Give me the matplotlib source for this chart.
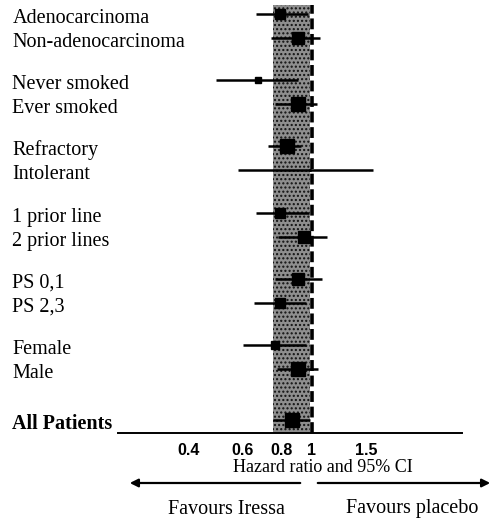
import numpy as np
import matplotlib
matplotlib.use('Agg')
import matplotlib.pyplot as plt
import matplotlib.transforms as mtransforms
from matplotlib.ticker import NullFormatter

plt.rcParams['font.family'] = 'Liberation Serif'

# SUBGROUP DATA (hazard ratio, 95% CI, relative weight of the estimate)
groups = [['Adenocarcinoma', 'Non-adenocarcinoma'],
          ['Never smoked', 'Ever smoked'],
          ['Refractory', 'Intolerant'],
          ['1 prior line', '2 prior lines'],
          ['PS 0,1', 'PS 2,3'],
          ['Female', 'Male']]
hr     = [0.79, 0.90, 0.67, 0.90, 0.83, 0.99, 0.79, 0.94, 0.90, 0.79, 0.76, 0.90]
ci_lo  = [0.66, 0.74, 0.49, 0.76, 0.72, 0.58, 0.66, 0.78, 0.76, 0.65, 0.60, 0.77]
ci_hi  = [0.97, 1.06, 0.90, 1.04, 0.92, 1.57, 0.98, 1.12, 1.08, 0.96, 0.96, 1.05]
weight = [51, 73, 20, 86, 100, 1, 51, 73, 73, 51, 33, 86]

all_label = 'All Patients'
all_hr, all_lo, all_hi, all_weight = 0.86, 0.75, 0.985, 100

tick_vals = [0.4, 0.6, 0.8, 1, 1.5]
tick_text = ['0.4', '0.6', '0.8', '1', '1.5']

# ROW LAYOUT
group_gap = 2.76
overall_gap = 2.125
labels = [lab for g in groups for lab in g]
ypos = [gi * group_gap + j for gi, g in enumerate(groups) for j in range(len(g))]
y_all = ypos[-1] + overall_gap


def side(w):
    # square side in points, scaled by weight
    return 10.2 * np.sqrt(w / 100.0)


fig = plt.figure(figsize=(4.96, 5.2), dpi=100)
ax = fig.add_axes([0.238, 0.1673, 0.693, 0.8231])
ax.set_xscale('log')
ax.set_xlim(0.2376, 3.04)
ax.set_ylim(17.46, -0.375)

# overall CI band + line of no effect
ax.axvspan(all_lo, all_hi, facecolor='#8e8e8e', hatch='....', edgecolor='#111111', lw=0, zorder=1)
ax.axvline(1, color='black', lw=2.6, ls=(0, (3, 1.3)), zorder=2)

# CI lines and squares
ax.hlines(ypos, ci_lo, ci_hi, color='black', lw=1.8, zorder=3)
for h, y, w in zip(hr, ypos, weight):
    ax.plot(h, y, marker='s', ms=side(w), color='black', zorder=4)
ax.hlines(y_all, all_lo, all_hi, color='black', lw=1.8, zorder=3)
ax.plot(all_hr, y_all, marker='s', ms=side(all_weight), color='black', zorder=4)

# row labels
trans = mtransforms.blended_transform_factory(fig.transFigure, ax.transData) + \
    mtransforms.ScaledTranslation(0, -6.5 / 72, fig.dpi_scale_trans)
for lab, y in zip(labels, ypos):
    ax.text(0.025, y, lab, transform=trans, ha='left', va='baseline', fontsize=14.5)
ax.text(0.025, y_all, all_label, transform=trans, ha='left', va='baseline',
        fontsize=14.5, fontweight='bold')

# axis
for s in ['top', 'right', 'left']:
    ax.spines[s].set_visible(False)
ax.spines['bottom'].set_linewidth(1.4)
ax.set_yticks([])
ax.set_xticks(tick_vals)
ax.set_xticklabels(tick_text, family='Liberation Sans', fontsize=11.5, fontweight='bold')
ax.set_xticks([1], minor=True)
ax.xaxis.set_minor_formatter(NullFormatter())
ax.tick_params(axis='x', which='major', length=0, pad=7)
ax.tick_params(axis='x', which='minor', length=4, width=1.2)

fig.text(323 / 496, 1 - 467 / 520, 'Hazard ratio and 95% CI', ha='center', va='center', fontsize=13)

# direction arrows
ya = 1 - 483 / 520
ax.annotate('', xy=(127 / 496, ya), xytext=(303 / 496, ya), xycoords='figure fraction',
            arrowprops=dict(arrowstyle='-|>', color='black', lw=1.6, mutation_scale=12))
ax.annotate('', xy=(493 / 496, ya), xytext=(315 / 496, ya), xycoords='figure fraction',
            arrowprops=dict(arrowstyle='-|>', color='black', lw=1.6, mutation_scale=12))
fig.text(226 / 496, 1 - 509 / 520, 'Favours Iressa', ha='center', va='center', fontsize=14.5)
fig.text(412 / 496, 1 - 509 / 520, 'Favours placebo', ha='center', va='center', fontsize=14.5)

fig.savefig('out.png', dpi=100, facecolor='white')
